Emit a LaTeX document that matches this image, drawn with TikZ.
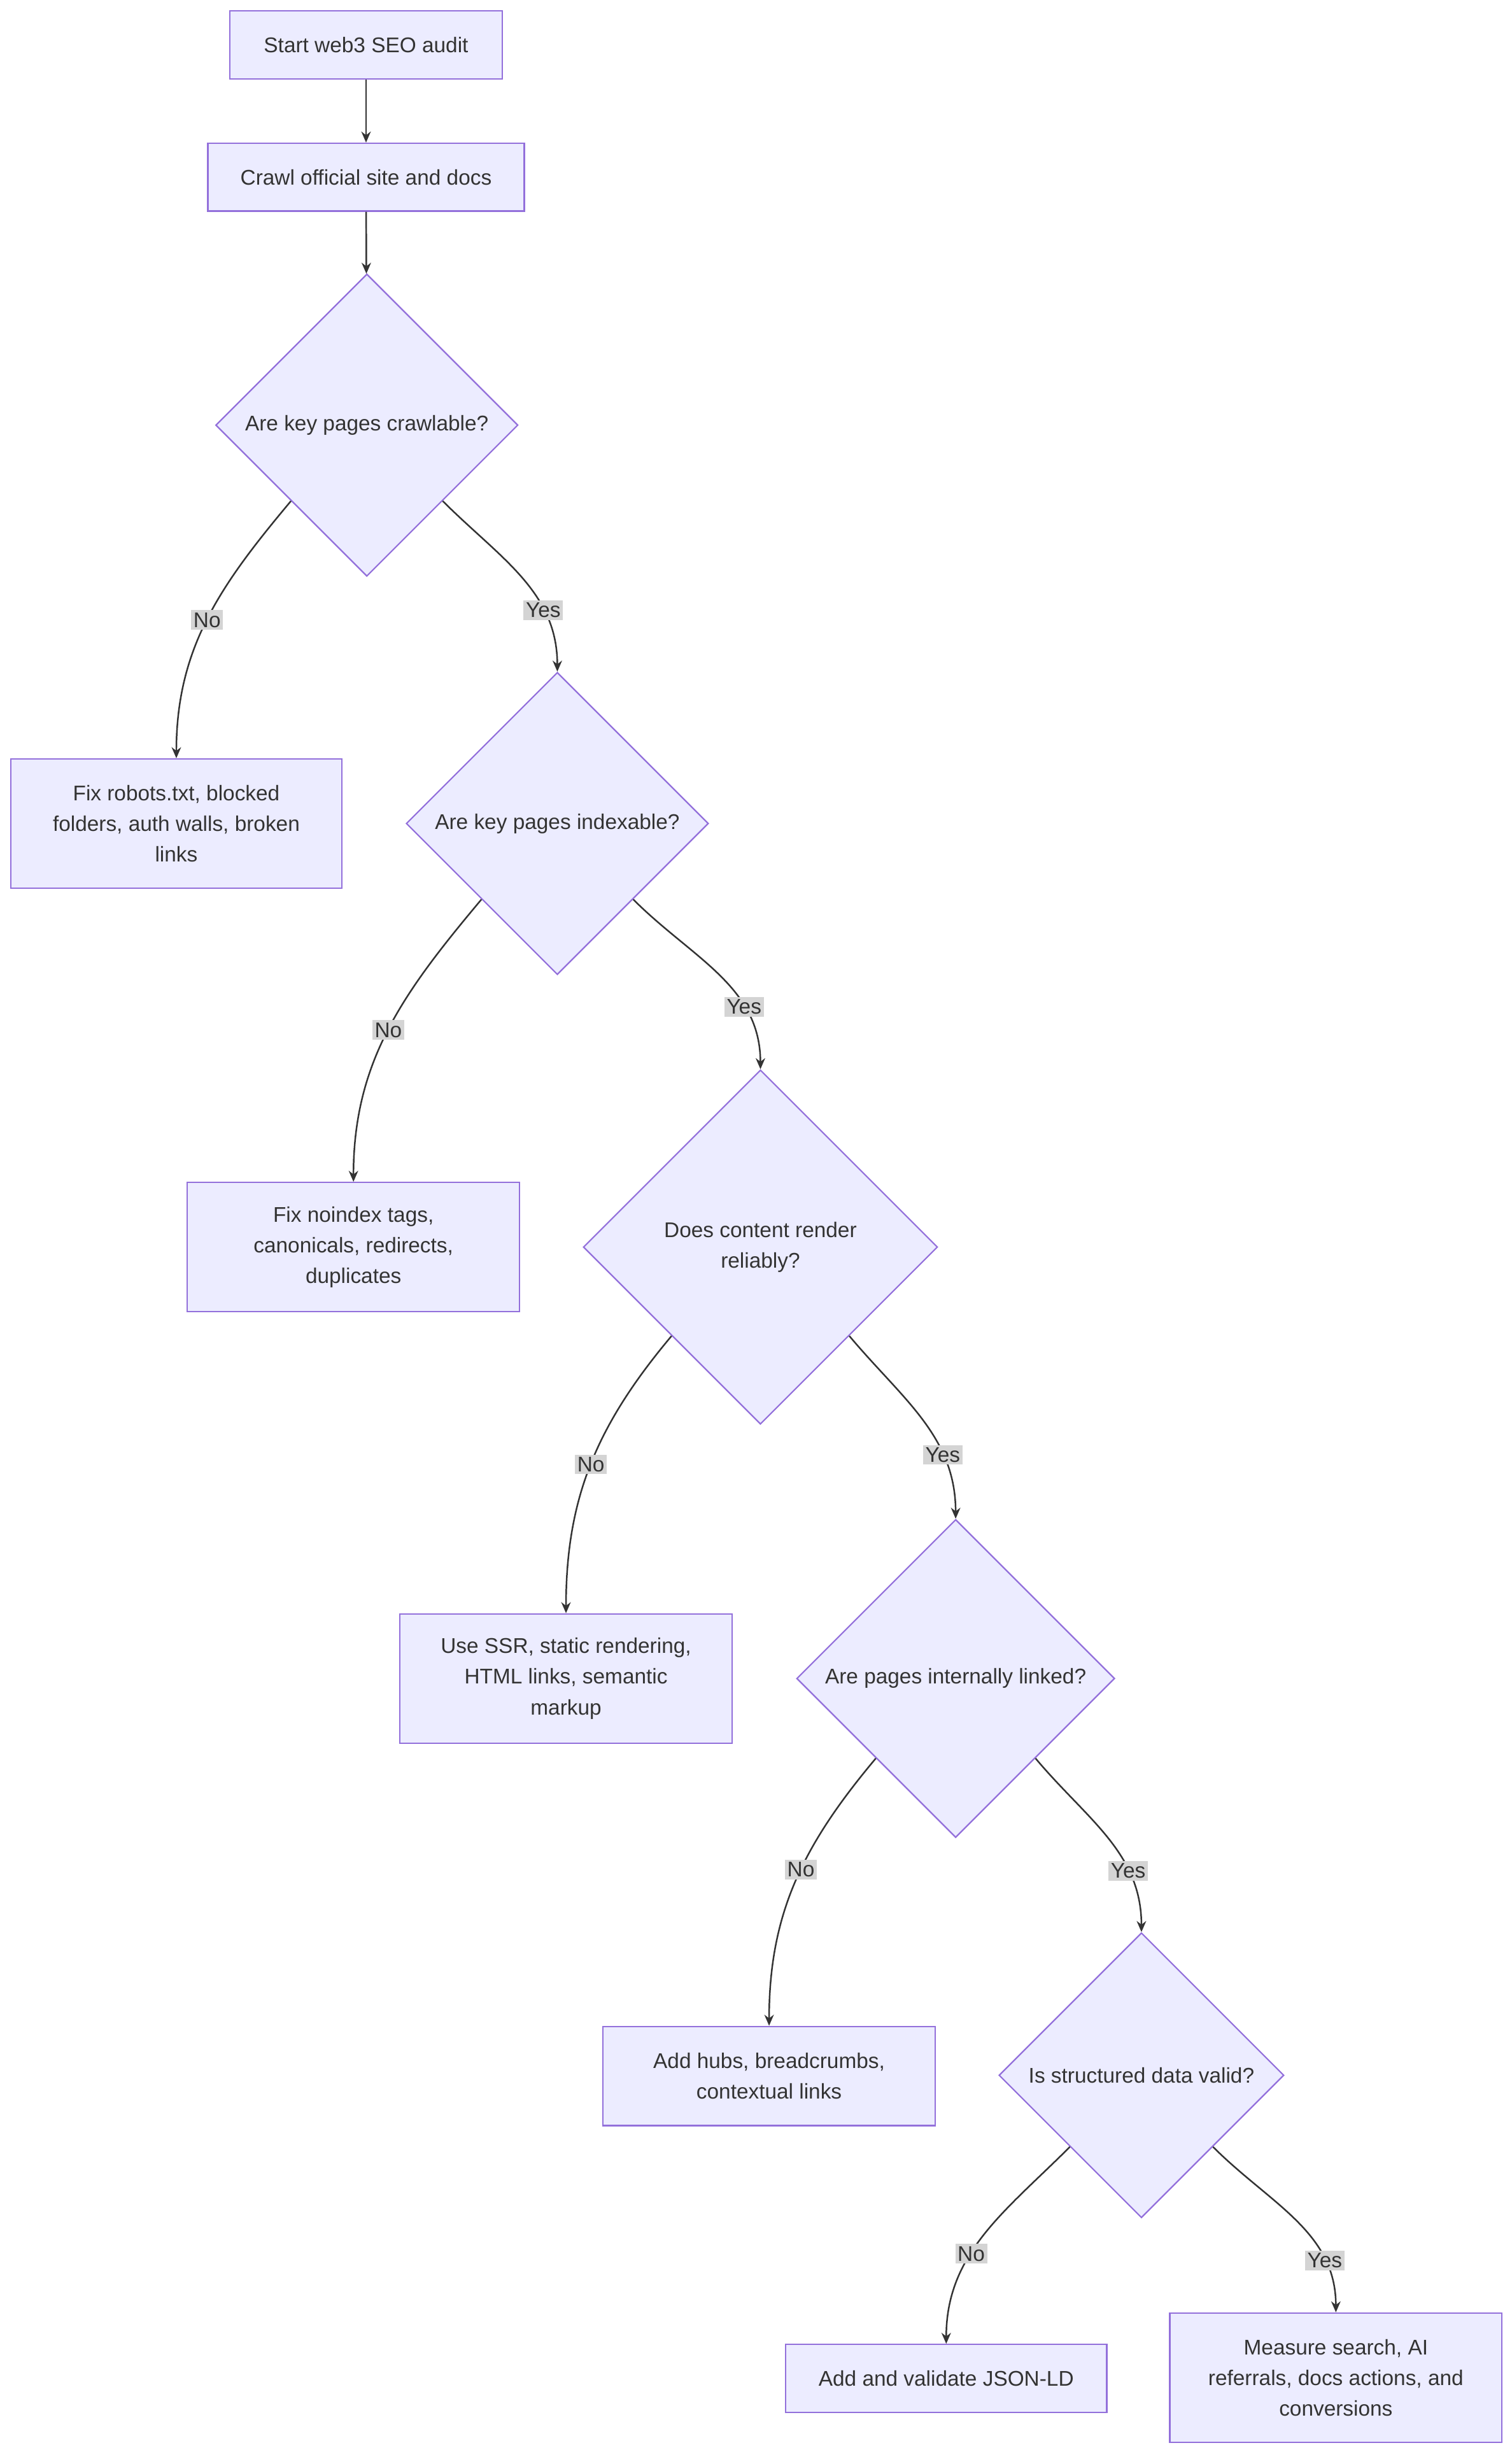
\documentclass[tikz,border=0pt]{standalone}
\usepackage{fontspec}
\setmainfont{Liberation Sans}
\usetikzlibrary{shapes.geometric,arrows.meta}
\definecolor{boxfill}{HTML}{ECECFF}
\definecolor{boxline}{HTML}{9370DB}
\definecolor{ink}{HTML}{333333}
\tikzset{
  box/.style={draw=boxline, fill=boxfill, line width=0.9pt, align=center, text=ink, inner sep=0pt},
  dec/.style={diamond, draw=boxline, fill=boxfill, line width=0.9pt, align=center, text=ink, inner sep=0pt, aspect=1},
  arr/.style={draw=ink, line width=1pt, -{Stealth[length=7pt,width=6pt]}},
  lbl/.style={fill=black!17, text=ink, inner sep=1.5pt, font=\fontsize{13.5}{16}\selectfont}
}
\begin{document}
\begin{tikzpicture}[x=1pt,y=1pt, font=\fontsize{13.5}{19.5}\selectfont]
	\useasboundingbox (0,0) rectangle (960,-1556);
	\node (start)[box, minimum width=173pt, minimum height=43pt] at (232.5,-28.5) {Start web3 SEO audit};
	\node (crawl)[box, minimum width=201pt, minimum height=43pt] at (232.5,-112.5) {Crawl official site and docs};
	\node (d1)[dec, minimum width=192pt, minimum height=192pt] at (233,-270) {Are key pages crawlable?};
	\node (fix1)[box, minimum width=210pt, minimum height=82pt] at (112,-523) {Fix robots.txt, blocked\\folders, auth walls, broken\\links};
	\node (d2)[dec, minimum width=192pt, minimum height=192pt] at (354,-523) {Are key pages indexable?};
	\node (fix2)[box, minimum width=211pt, minimum height=82pt] at (224.5,-792) {Fix noindex tags,\\canonicals, redirects,\\duplicates};
	\node (d3)[dec, minimum width=225pt, minimum height=225pt] at (483,-792) {Does content render\\reliably?};
	\node (fix3)[box, minimum width=211pt, minimum height=82pt] at (359.5,-1066) {Use SSR, static rendering,\\HTML links, semantic\\markup};
	\node (d4)[dec, minimum width=202pt, minimum height=202pt] at (607,-1066) {Are pages internally linked?};
	\node (fix4)[box, minimum width=211pt, minimum height=63pt] at (488.5,-1318.5) {Add hubs, breadcrumbs,\\contextual links};
	\node (d5)[dec, minimum width=181pt, minimum height=181pt] at (725,-1318) {Is structured data valid?};
	\node (fix5)[box, minimum width=204pt, minimum height=43pt] at (601,-1510.5) {Add and validate JSON-LD};
	\node (fix6)[box, minimum width=211pt, minimum height=82pt] at (848.5,-1510) {Measure search, AI\\referrals, docs actions, and\\conversions};

	\draw[arr] (start) -- (crawl);
	\draw[arr] (crawl) -- (d1);
	\draw[arr] (d1.south west) to[out=-130,in=90] node[lbl, pos=0.5]{No} (fix1);
	\draw[arr] (d1.south east) to[out=-45,in=90] node[lbl, pos=0.7]{Yes} (d2);
	\draw[arr] (d2.south west) to[out=-130,in=90] node[lbl, pos=0.5]{No} (fix2);
	\draw[arr] (d2.south east) to[out=-45,in=90] node[lbl, pos=0.7]{Yes} (d3);
	\draw[arr] (d3.south west) to[out=-130,in=90] node[lbl, pos=0.5]{No} (fix3);
	\draw[arr] (d3.south east) to[out=-50,in=90] node[lbl, pos=0.7]{Yes} (d4);
	\draw[arr] (d4.south west) to[out=-130,in=90] node[lbl, pos=0.45]{No} (fix4);
	\draw[arr] (d4.south east) to[out=-50,in=90] node[lbl, pos=0.7]{Yes} (d5);
	\draw[arr] (d5.south west) to[out=-135,in=90] node[lbl, pos=0.6]{No} (fix5);
	\draw[arr] (d5.south east) to[out=-45,in=90] node[lbl, pos=0.75]{Yes} (fix6);
\end{tikzpicture}
\end{document}
